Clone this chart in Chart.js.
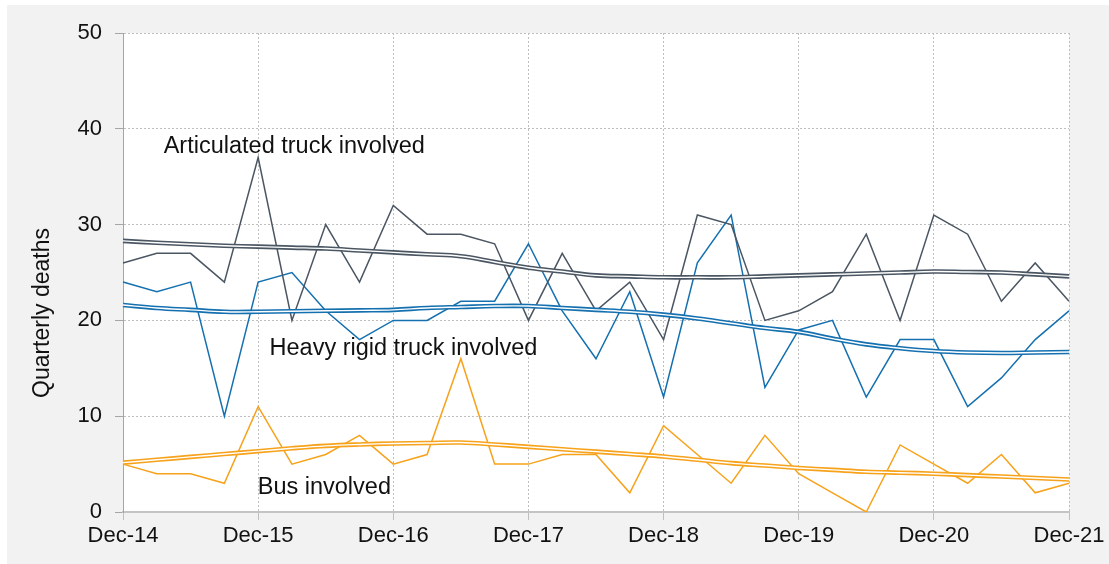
<!DOCTYPE html>
<html>
<head>
<meta charset="utf-8">
<script src="https://cdn.jsdelivr.net/npm/chart.js@4"></script>
<style>
  body { margin: 0; background: #fff; }
  #myChart { display: block; }
</style>
</head>
<body>
<canvas id="myChart" width="1109" height="564"></canvas>
<script>
// quarters from Dec-14 to Dec-21
const trimestres = ['Dec-14','Mar-15','Jun-15','Sep-15','Dec-15','Mar-16','Jun-16','Sep-16','Dec-16',
  'Mar-17','Jun-17','Sep-17','Dec-17','Mar-18','Jun-18','Sep-18','Dec-18','Mar-19','Jun-19','Sep-19',
  'Dec-19','Mar-20','Jun-20','Sep-20','Dec-20','Mar-21','Jun-21','Sep-21','Dec-21'];

const articulado = [26,27,27,24,37,20,30,24,32,29,29,28,20,27,21,24,18,31,30,20,21,23,29,20,31,29,22,26,22];
const rigido = [24,23,24,10,24,25,21,18,20,20,22,22,28,21,16,23,12,26,31,13,19,20,12,18,18,11,14,18,21];
const onibus = [5,4,4,3,11,5,6,8,5,6,16,5,5,6,6,2,9,6,3,8,4,2,0,7,5,3,6,2,3];

// trend lines
const tendArticulado = [28.3,28.1,27.95,27.8,27.7,27.6,27.5,27.3,27.1,26.9,26.7,26.1,25.5,25.1,24.7,24.6,24.5,24.5,24.5,24.6,24.7,24.8,24.9,25.0,25.1,25.05,25.0,24.8,24.6];
const tendRigido = [21.6,21.3,21.1,20.9,20.9,20.95,21.0,21.05,21.1,21.3,21.4,21.5,21.5,21.3,21.1,20.9,20.6,20.2,19.7,19.2,18.8,18.1,17.5,17.1,16.8,16.65,16.6,16.65,16.7];
const tendOnibus = [5.15,5.45,5.75,6.05,6.35,6.65,6.9,7.05,7.15,7.2,7.25,7.05,6.8,6.55,6.3,6.05,5.8,5.45,5.1,4.85,4.6,4.4,4.2,4.1,4.0,3.85,3.7,3.55,3.4];

const yTicks = [0, 10, 20, 30, 40, 50];

const corCinza = '#4b5663';
const corAzul = '#1570b0';
const corLaranja = '#f7a21b';

const fonte = "Arial, 'Liberation Sans', sans-serif";

// text labels placed at [category index, value]
const rotulos = [
  { texto: 'Articulated truck involved', x: 5.07, y: 38.1 },
  { texto: 'Heavy rigid truck involved', x: 8.3, y: 17.1 },
  { texto: 'Bus involved', x: 5.96, y: 2.6 }
];

function linhaTendencia(dados, cor) {
  return [
    { data: dados, borderColor: '#ffffff', borderWidth: 1.4, pointRadius: 0, tension: 0.4, order: 1 },
    { data: dados, borderColor: cor, borderWidth: 4.6, pointRadius: 0, tension: 0.4, order: 2 }
  ];
}

function linhaDados(dados, cor) {
  return { data: dados, borderColor: cor, borderWidth: 1.5, pointRadius: 0, tension: 0, order: 3 };
}

const fundo = {
  id: 'fundo',
  beforeDraw(chart) {
    const c = chart.ctx;
    const a = chart.chartArea;
    c.save();
    c.fillStyle = '#ffffff';
    c.fillRect(0, 0, chart.width, chart.height);
    c.fillStyle = '#f2f2f2';
    c.fillRect(7, 5, chart.width - 7, chart.height - 5);
    c.fillStyle = '#ffffff';
    c.fillRect(a.left, a.top, a.right - a.left, a.bottom - a.top);
    c.restore();
  }
};

const textos = {
  id: 'textos',
  afterDraw(chart) {
    const c = chart.ctx;
    const sx = chart.scales.x;
    const sy = chart.scales.y;
    c.save();
    c.fillStyle = '#111';
    c.font = '23.5px ' + fonte;
    c.textAlign = 'center';
    c.textBaseline = 'middle';
    rotulos.forEach(r => {
      c.fillText(r.texto, sx.getPixelForValue(r.x), sy.getPixelForValue(r.y));
    });
    // y axis title
    c.font = '23px ' + fonte;
    c.translate(43, 313);
    c.rotate(-Math.PI / 2);
    c.fillText('Quarterly deaths', 0, 0);
    c.restore();
  }
};

const ctx = document.getElementById('myChart').getContext('2d');

const myChart = new Chart(ctx, {
  type: 'line',
  data: {
    labels: trimestres,
    datasets: [
      ...linhaTendencia(tendArticulado, corCinza),
      ...linhaTendencia(tendRigido, corAzul),
      ...linhaTendencia(tendOnibus, corLaranja),
      linhaDados(articulado, corCinza),
      linhaDados(rigido, corAzul),
      linhaDados(onibus, corLaranja)
    ]
  },
  options: {
    responsive: false,
    animation: false,
    devicePixelRatio: 1,
    layout: { padding: { left: 7, top: 33, right: 40, bottom: 0 } },
    plugins: {
      legend: { display: false },
      tooltip: { enabled: false }
    },
    scales: {
      x: {
        afterFit(scale) { scale.height = 52; },
        grid: {
          color: c => c.index % 4 === 0 ? '#bfbfbf' : 'rgba(0,0,0,0)',
          tickColor: c => c.index % 4 === 0 ? '#bfbfbf' : 'rgba(0,0,0,0)',
          tickLength: 8,
          tickBorderDash: []
        },
        border: { display: true, color: '#c4c4c4', width: 2, dash: [2, 2] },
        ticks: {
          autoSkip: false,
          maxRotation: 0,
          padding: 3,
          color: '#111',
          font: { family: fonte, size: 22 },
          callback: (v, i) => i % 4 === 0 ? trimestres[i] : ''
        }
      },
      y: {
        min: 0,
        max: 50,
        afterFit(scale) { scale.width = 116; },
        afterBuildTicks(scale) { scale.ticks = yTicks.map(v => ({ value: v })); },
        grid: { color: '#bfbfbf', tickColor: '#a6a6a6', tickLength: 8, tickBorderDash: [] },
        border: { display: true, color: '#a6a6a6', width: 1, dash: [2, 2] },
        ticks: {
          padding: 13,
          color: '#111',
          font: { family: fonte, size: 22 }
        }
      }
    }
  },
  plugins: [fundo, textos]
});
</script>
</body>
</html>
